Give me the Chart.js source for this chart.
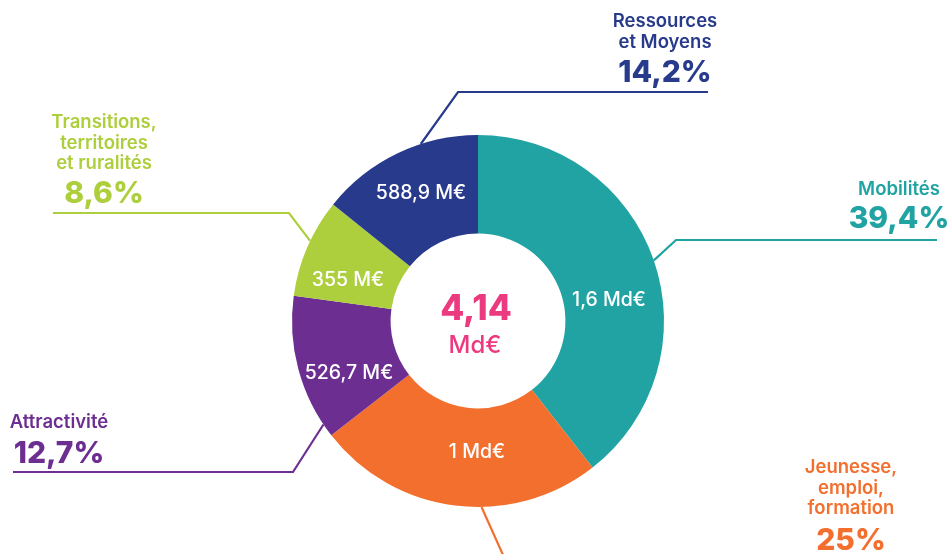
<!DOCTYPE html>
<html>
<head>
<meta charset="utf-8">
<script src="https://cdn.jsdelivr.net/npm/chart.js@4/dist/chart.umd.min.js"></script>
<style>
  html, body { margin: 0; padding: 0; background: #fff; }
  #wrap { width: 948px; height: 554px; position: relative; }
</style>
</head>
<body>
<div id="wrap"><canvas id="budget"></canvas></div>
<script>
// budget split, clockwise from 12 o'clock
const categories = [
    ["Mobilités"],
    ["Jeunesse,", "emploi,", "formation"],
    ["Attractivité"],
    ["Transitions,", "territoires", "et ruralités"],
    ["Ressources", "et Moyens"]
];
const shares = [39.4, 25, 12.7, 8.6, 14.2];
const amounts = ["1,6 Md€", "1 Md€", "526,7 M€", "355 M€", "588,9 M€"];
const totalValue = "4,14";
const totalUnit = "Md€";

const colors = ['#21A3A3', '#F36F2E', '#6C2E90', '#AECF3D', '#283A8B'];
const pink = '#EC3A80';
const FONT = 'Inter, "Noto Sans", sans-serif';

// where each callout sits (leader: fraction along the slice, elbow, end of the rule)
const callouts = [
    { frac: 0.5,  elbow: [676, 240], end: [937, 240], textX: 899, firstBase: 195, pctBase: 228, inside: [609, 300] },
    { frac: 0.41, elbow: [512, 575], end: null,       textX: 851, firstBase: 473, pctBase: 550, inside: [477, 452] },
    { frac: 0.09, elbow: [293, 472], end: [13, 472],  textX: 59,  firstBase: 428, pctBase: 463, inside: [349, 373] },
    { frac: 0.57, elbow: [289, 213], end: [53, 213],  textX: 104, firstBase: 128, pctBase: 203, inside: [348, 280] },
    { frac: 0.65, elbow: [458, 92],  end: [708, 92],  textX: 665, firstBase: 27,  pctBase: 82,  inside: [421, 193] }
];

function pct(v) {
    return String(v).replace('.', ',') + '%';
}

const calloutPlugin = {
    id: 'callouts',
    afterDatasetsDraw(chart) {
        const ctx = chart.ctx;
        const arcs = chart.getDatasetMeta(0).data;
        ctx.save();

        arcs.forEach((arc, i) => {
            const c = callouts[i];
            const a = arc.startAngle + c.frac * (arc.endAngle - arc.startAngle);
            const sx = arc.x + Math.cos(a) * arc.outerRadius;
            const sy = arc.y + Math.sin(a) * arc.outerRadius;

            // leader line
            ctx.strokeStyle = colors[i];
            ctx.lineWidth = 2.2;
            ctx.lineJoin = 'miter';
            ctx.beginPath();
            ctx.moveTo(sx, sy);
            ctx.lineTo(c.elbow[0], c.elbow[1]);
            if (c.end) ctx.lineTo(c.end[0], c.end[1]);
            ctx.stroke();

            // category name + share
            ctx.fillStyle = colors[i];
            ctx.textAlign = 'center';
            ctx.textBaseline = 'alphabetic';
            ctx.font = '600 18.5px ' + FONT;
            categories[i].forEach((line, k) => {
                ctx.fillText(line, c.textX, c.firstBase + k * 20.5);
            });
            ctx.font = '800 30px ' + FONT;
            ctx.fillText(pct(shares[i]), c.textX, c.pctBase);

            // amount inside the slice
            ctx.fillStyle = '#fff';
            ctx.font = '500 19.5px ' + FONT;
            ctx.textBaseline = 'middle';
            ctx.fillText(amounts[i], c.inside[0], c.inside[1]);
        });

        // total in the hole
        const cx = arcs[0].x, cy = arcs[0].y;
        ctx.fillStyle = pink;
        ctx.textAlign = 'center';
        ctx.textBaseline = 'alphabetic';
        ctx.font = '800 35px ' + FONT;
        ctx.fillText(totalValue, cx - 2, 320);
        ctx.font = '500 24px ' + FONT;
        ctx.fillText(totalUnit, cx - 3, 353);

        ctx.restore();
    }
};

new Chart(document.getElementById('budget'), {
    type: 'doughnut',
    data: {
        labels: categories.map(c => c.join(' ')),
        datasets: [{
            data: shares,
            backgroundColor: colors,
            borderWidth: 0,
            hoverOffset: 0
        }]
    },
    options: {
        responsive: true,
        maintainAspectRatio: false,
        animation: false,
        events: [],
        cutout: '47%',
        layout: {
            padding: { top: 135, bottom: 47, left: 292, right: 284 }
        },
        plugins: {
            legend: { display: false },
            tooltip: { enabled: false }
        }
    },
    plugins: [calloutPlugin]
});
</script>
</body>
</html>
